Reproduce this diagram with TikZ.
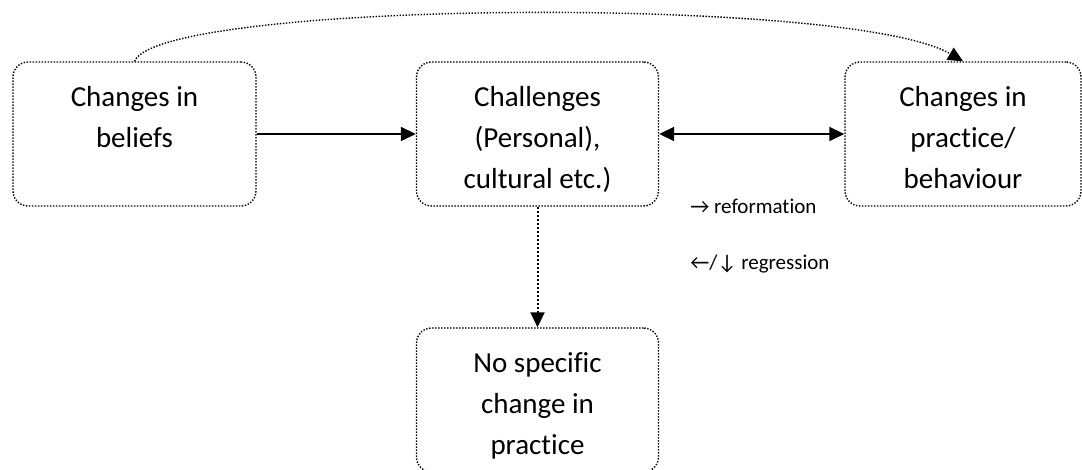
\documentclass[tikz,border=0pt]{standalone}
\usepackage{fontspec}
\setmainfont{Carlito}[Ligatures={NoCommon}]
\usetikzlibrary{arrows.meta}

\begin{document}
\begin{tikzpicture}[x=0.5pt,y=0.5pt,
	box/.style={draw,line width=0.7pt,dash pattern=on 0.7pt off 0.8pt,rounded corners=7.5pt,
		inner xsep=0pt,inner ysep=0pt,text height=22.5pt,text depth=49.5pt,
		align=flush center,font=\fontsize{14.5}{20.5}\selectfont},
	note/.style={anchor=base west,inner sep=0pt,font=\fontsize{10.5}{12}\selectfont},
	tip/.style={-{Triangle[length=7.5pt,width=7pt]}}]
	\useasboundingbox (0,0) rectangle (1082,470);

	\node[box,text width=121.5pt] (beliefs) at (134.5,336) {Changes in\\beliefs};
	\node[box,text width=121pt] (challenges) at (537.5,336) {Challenges\\(Personal),\\cultural etc.)};
	\node[box,text width=118pt] (practice) at (963,336) {Changes in\\practice/\\behaviour};
	\node[box,text width=121pt] (nochange) at (537.5,70) {No specific\\change in\\practice};

	\node[note] (reform) at (690,256) {→ reformation};
	\node[note] (regress) at (690,200) {←/↓ regression};

	\draw[tip,line width=0.9pt] (beliefs) -- (challenges);
	\draw[{Triangle[length=7.5pt,width=7pt]}-{Triangle[length=7.5pt,width=7pt]},line width=0.9pt] (challenges) -- (practice);
	\draw[tip,line width=1pt,dash pattern=on 1pt off 1pt] (challenges) -- (nochange);
	\draw[tip,line width=0.7pt,dash pattern=on 0.7pt off 0.8pt] (beliefs.north) .. controls (160,470) and (850,475) .. (practice.north);
\end{tikzpicture}
\end{document}
